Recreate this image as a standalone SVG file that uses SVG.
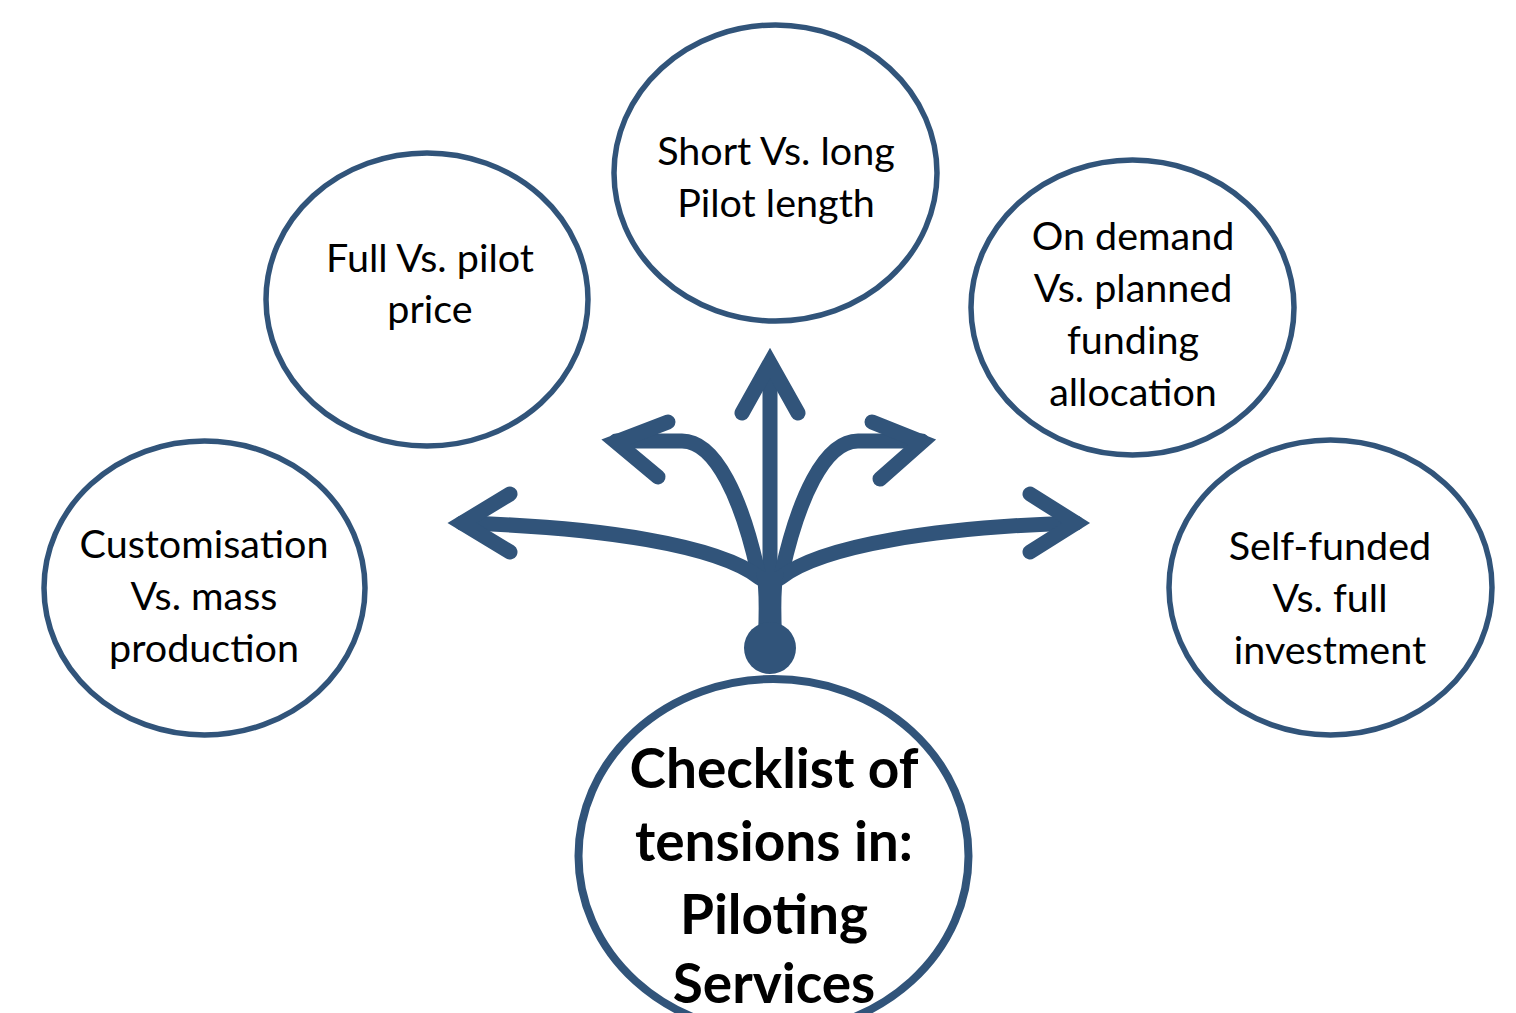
<svg xmlns="http://www.w3.org/2000/svg" width="1516" height="1013" viewBox="0 0 1516 1013">
  <style>
    .node ellipse { fill: #ffffff; stroke: #31547a; stroke-width: 5.5; }
    .label { font-family: Lato, "Liberation Sans", sans-serif; font-size: 39.5px; fill: #000; text-anchor: middle; }
    .title { font-family: Lato, "Liberation Sans", sans-serif; font-size: 55px; font-weight: bold; fill: #000; text-anchor: middle; }
    .branch { fill: none; stroke: #31547a; stroke-width: 15; stroke-linecap: round; }
    .head { fill: none; stroke: #31547a; stroke-width: 15; stroke-linecap: round; stroke-linejoin: miter; stroke-miterlimit: 10; }
  </style>

  <rect width="1516" height="1013" fill="#ffffff"/>

  <!-- branching arrows icon -->
  <g id="connectors">
    <path class="branch" d="M 770 368 L 770 585"/>
    <path class="branch" d="M 616 441 L 682 441 C 716 441 742 500 758 572"/>
    <path class="branch" d="M 922 441 L 858 441 C 824 441 798 500 782 572"/>
    <path class="branch" d="M 462 523 C 600 527 718 545 760 578"/>
    <path class="branch" d="M 1076 523 C 940 527 822 545 780 578"/>
    <path d="M 756 572 Q 760 590 758 635 L 782 635 Q 780 590 784 572 Z" fill="#31547a"/>
    <circle cx="770" cy="648" r="26" fill="#31547a"/>
    <polyline class="head" points="742,413 770,363 798,413"/>
    <polyline class="head" points="668,422 616,442 658,477"/>
    <polyline class="head" points="872,422 922,442 880,479"/>
    <polyline class="head" points="510,494 462,523 510,552"/>
    <polyline class="head" points="1030,494 1076,523 1030,552"/>
  </g>

  <g id="node-customisation" class="node">
    <ellipse cx="204.5" cy="588" rx="160.5" ry="147"/>
    <text class="label" x="204" y="558">Customisation</text>
    <text class="label" x="204" y="610">Vs. mass</text>
    <text class="label" x="204" y="662">production</text>
  </g>

  <g id="node-price" class="node">
    <ellipse cx="427" cy="299.5" rx="161" ry="146.5"/>
    <text class="label" x="430" y="272">Full Vs. pilot</text>
    <text class="label" x="430" y="323">price</text>
  </g>

  <g id="node-length" class="node">
    <ellipse cx="775.5" cy="173" rx="161.5" ry="148"/>
    <text class="label" x="776" y="165">Short Vs. long</text>
    <text class="label" x="776" y="217">Pilot length</text>
  </g>

  <g id="node-funding" class="node">
    <ellipse cx="1132.5" cy="307.5" rx="161.5" ry="147.5"/>
    <text class="label" x="1133" y="250">On demand</text>
    <text class="label" x="1133" y="302">Vs. planned</text>
    <text class="label" x="1133" y="354">funding</text>
    <text class="label" x="1133" y="406">allocation</text>
  </g>

  <g id="node-investment" class="node">
    <ellipse cx="1330.5" cy="587.5" rx="161.5" ry="147.5"/>
    <text class="label" x="1330" y="560">Self-funded</text>
    <text class="label" x="1330" y="612">Vs. full</text>
    <text class="label" x="1330" y="664">investment</text>
  </g>

  <g id="node-checklist" class="node">
    <ellipse cx="773.5" cy="856" rx="195" ry="177" style="stroke-width:8"/>
    <text class="title" x="774" y="788">Checklist of</text>
    <text class="title" x="774" y="861">tensions in:</text>
    <text class="title" x="774" y="934">Piloting</text>
    <text class="title" x="774" y="1003">Services</text>
  </g>
</svg>
